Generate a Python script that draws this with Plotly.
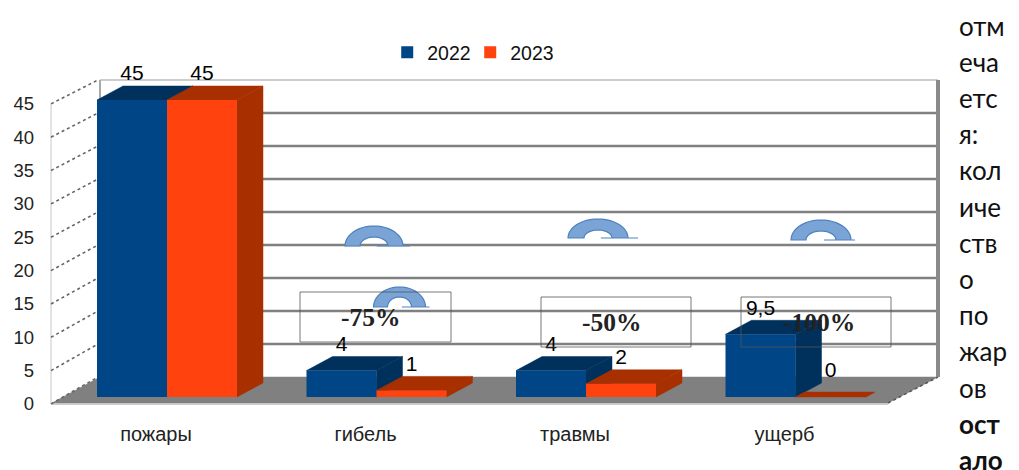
import math
import plotly.graph_objects as go

categories = ["пожары", "гибель", "травмы", "ущерб"]
values_2022 = [45, 4, 4, 9.5]
values_2023 = [45, 1, 2, 0]
labels_2022 = ["45", "4", "4", "9,5"]
labels_2023 = ["45", "1", "2", "0"]
y_ticks = [0, 5, 10, 15, 20, 25, 30, 35, 40, 45]
changes = ["-75%", "-50%", "-100%"]
side_lines = ["отм", "еча", "етс", "я:", "кол", "иче", "ств", "о", "по", "жар", "ов", "ост", "ало"]
bold_lines = {"ост", "ало"}

W, H = 1019, 470
X0, XSTEP = 167.0, 209.5
BAR_W = 70 / XSTEP
DX = 26 / XSTEP
BASE, SCALE = 397.0, 6.6
DY = 14 / SCALE
T0, TSCALE = 404.0, 6.67
BLUE, BLUE_D = "#004586", "#00305c"
RED, RED_D = "#ff420e", "#a83000"
GREY = "#808080"

def xpx(p):
    return (p - X0) / XSTEP

def wall(v):
    return (T0 - (377 - 6.6 * v)) / TSCALE

def tpx(p):
    return (T0 - p) / TSCALE

fig = go.Figure()

def poly(xs, ys, color, yaxis):
    fig.add_trace(go.Scatter(x=xs, y=ys, yaxis=yaxis, mode="lines", fill="toself",
                             fillcolor=color, line=dict(color=color, width=0.5),
                             hoverinfo="skip", showlegend=False))

def seg(xs, ys, color, width, dash="solid"):
    fig.add_trace(go.Scatter(x=xs, y=ys, yaxis="y", mode="lines",
                             line=dict(color=color, width=width, dash=dash),
                             hoverinfo="skip", showlegend=False))

# floor
poly([xpx(52), xpx(888), xpx(938), xpx(100), xpx(52)],
     [tpx(403), tpx(403), wall(0), wall(0), tpx(403)], GREY, "y")
seg([xpx(52), xpx(888)], [tpx(404), tpx(404)], "#bdbdbd", 1.5)
seg([xpx(888), xpx(938)], [tpx(403), wall(0)], "#555555", 1.5, "dot")
# walls
for t in y_ticks[1:-1]:
    seg([xpx(100), xpx(938)], [wall(t), wall(t)], GREY, 2.6)
seg([xpx(100), xpx(938)], [wall(45), wall(45)], "#bcbcbc", 1.5)
seg([xpx(100), xpx(100)], [wall(0), wall(45)], "#a8a8a8", 2)
seg([xpx(938), xpx(938)], [wall(0), wall(45)], "#8a8a8a", 4)
seg([xpx(51), xpx(51)], [0, 45], "#c8c8c8", 1)
for t in y_ticks:
    seg([xpx(51), xpx(98)], [t, wall(t)], "#666666", 1.6, "dot")

def faces(i, offset, v, top, side, yaxis):
    x0 = i + offset
    x1 = x0 + BAR_W
    k = 1 if v > 0 else 0.35
    dx, dy = DX * k, DY * k
    poly([x1, x1 + dx, x1 + dx, x1, x1], [0, dy, v + dy, v, 0], side, yaxis)
    poly([x0, x1, x1 + dx, x0 + dx, x0], [v, v, v + dy, v + dy, v], top, yaxis)

idx = list(range(len(categories)))
for i, v in zip(idx, values_2022):
    faces(i, -BAR_W, v, BLUE_D, BLUE_D, "y2")
fig.add_trace(go.Bar(x=idx, y=values_2022, yaxis="y3", name="2022", width=BAR_W, offset=-BAR_W,
                     marker=dict(color=BLUE, line=dict(width=0)), hoverinfo="skip"))
for i, v in zip(idx, values_2023):
    faces(i, 0, v, RED_D, RED_D, "y3")
fig.add_trace(go.Bar(x=idx, y=values_2023, yaxis="y4", name="2023", width=BAR_W, offset=0,
                     marker=dict(color=RED, line=dict(width=0)), hoverinfo="skip"))
lift = DY + 11 / SCALE
for xoff, vals, labs in [(-BAR_W / 2, values_2022, labels_2022), (BAR_W / 2, values_2023, labels_2023)]:
    fig.add_trace(go.Scatter(x=[i + xoff for i in idx], y=[v + lift for v in vals], yaxis="y4",
                             mode="text", text=labs, textposition="middle center",
                             textfont=dict(family="Liberation Sans", size=21, color="#000000"),
                             hoverinfo="skip", showlegend=False))

def over(base_px, scale):
    return [(base_px - H) / scale, base_px / scale]

common = dict(visible=False, fixedrange=True)
fig.update_layout(
    width=W, height=H, margin=dict(l=0, r=0, t=0, b=0),
    paper_bgcolor="white", plot_bgcolor="white", barmode="overlay",
    font=dict(family="Liberation Sans", color="#111111"),
    legend=dict(orientation="h", x=0.380, y=0.888, xanchor="left", yanchor="middle",
                font=dict(size=19.5), itemwidth=30, entrywidth=38, entrywidthmode="pixels",
                bgcolor="rgba(0,0,0,0)", traceorder="normal"),
    xaxis=dict(range=[xpx(0), xpx(W)], domain=[0, 1], anchor="free", position=(H - 420) / H,
               tickmode="array", tickvals=[i - 11 / XSTEP for i in idx], ticktext=categories,
               showgrid=False, zeroline=False, showline=False, ticks="",
               tickfont=dict(size=20, color="#222222")),
    yaxis=dict(range=over(T0, TSCALE), domain=[0, 1], anchor="free", position=34 / W,
               tickmode="array", tickvals=y_ticks, showgrid=False, zeroline=False, showline=False,
               ticks="", tickfont=dict(size=18.5, color="#222222")),
    yaxis2=dict(range=over(BASE, SCALE), overlaying="y", **common),
    yaxis3=dict(range=over(BASE, SCALE), overlaying="y", **common),
    yaxis4=dict(range=over(BASE, SCALE), overlaying="y", **common),
)

def arc_path(cx, base, rx, ry, irx, iry, tail):
    n = 24
    pts = []
    for k in range(n + 1):
        a = math.pi * k / n
        pts.append((cx - rx * math.cos(a), base - ry * math.sin(a)))
    for k in range(n + 1):
        a = math.pi * k / n
        pts.append((cx + irx * math.cos(a), base - iry * math.sin(a)))
    path = "M" + "L".join(f"{x / W:.5f},{1 - y / H:.5f}" for x, y in pts) + "Z"
    path += f"M{(cx + irx * 0.2) / W:.5f},{1 - base / H:.5f}L{(cx + tail) / W:.5f},{1 - base / H:.5f}"
    return path

for cx, base, rx, ry, irx, iry, tail in [(374, 246, 29, 20, 14, 9, 36),
                                         (399.5, 307, 26, 20, 12, 10, 30),
                                         (598, 238, 30, 19, 14, 8, 40),
                                         (821, 240, 30, 20, 15, 9, 34)]:
    fig.add_shape(type="path", xref="paper", yref="paper", path=arc_path(cx, base, rx, ry, irx, iry, tail),
                  fillcolor="#7aa3d6", line=dict(color="#4f81bd", width=1.2))

boxes = [(300, 451, 292, 342, 371, 317), (541, 691, 297, 347, 612, 322), (741, 891, 297, 347, 819, 322)]
for (x0, x1, y0, y1, tx, ty), txt in zip(boxes, changes):
    fig.add_shape(type="rect", xref="paper", yref="paper", x0=x0 / W, x1=x1 / W, y0=1 - y1 / H, y1=1 - y0 / H,
                  line=dict(color="#555555", width=0.8), fillcolor="rgba(0,0,0,0)")
    fig.add_annotation(xref="paper", yref="paper", x=tx / W, y=1 - ty / H, text=f"<b>{txt}</b>", showarrow=False,
                       font=dict(family="Liberation Serif", size=25.5, color="#222222"),
                       xanchor="center", yanchor="middle")

for n, line in enumerate(side_lines):
    txt = f"<b>{line}</b>" if line in bold_lines else line
    fig.add_annotation(xref="paper", yref="paper", x=957 / W, y=1 - (25.5 + 36.2 * n) / H, text=txt, showarrow=False,
                       font=dict(family="Lato, Noto Sans", size=26, color="#111111"),
                       xanchor="left", yanchor="middle", captureevents=False)

fig.write_html("out.html", post_script="document.body.style.margin='0';",
               config=dict(displayModeBar=False))
